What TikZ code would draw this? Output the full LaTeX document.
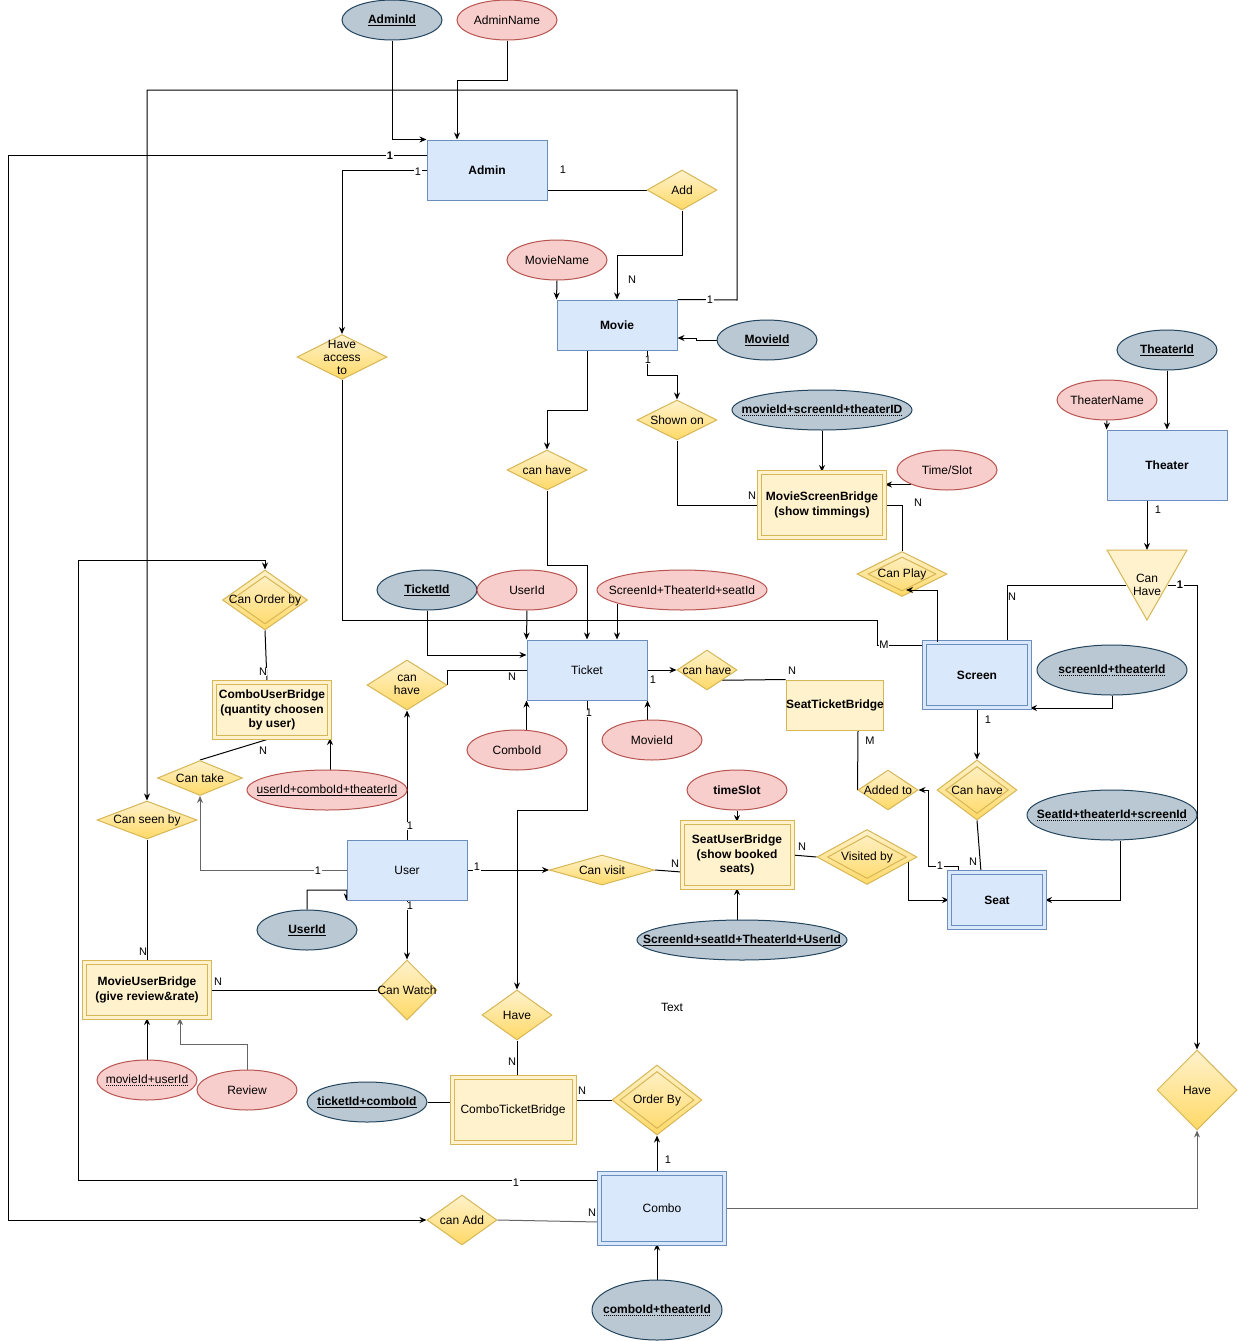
\documentclass[tikz,border=0pt,12pt]{standalone}
\usepackage{fontspec}
\setmainfont{Liberation Sans}
\usetikzlibrary{shapes.geometric,arrows.meta,calc,backgrounds}
\definecolor{entF}{HTML}{DAE8FC}
\definecolor{entB}{HTML}{6C8EBF}
\definecolor{brF}{HTML}{FFF2CC}
\definecolor{brB}{HTML}{D6B656}
\definecolor{relT}{HTML}{FFF2CC}
\definecolor{relBot}{HTML}{FFD966}
\definecolor{keyF}{HTML}{BAC8D3}
\definecolor{keyB}{HTML}{23445D}
\definecolor{attF}{HTML}{F8CECC}
\definecolor{attB}{HTML}{B85450}
\definecolor{lgray}{HTML}{666666}
\newcommand\dotul[1]{\setbox0\hbox{#1}\leavevmode\rlap{\raisebox{-2.5pt}{\hbox to \wd0{\xleaders\hbox to 2pt{\hss\vrule width 1pt height 0.8pt depth 0pt\hss}\hfill}}}\box0}
\newcommand\sul[1]{\setbox0\hbox{#1}\leavevmode\rlap{\raisebox{-2.2pt}{\vrule width \wd0 height 0.9pt depth 0pt}}\box0}
\tikzset{
 ent/.style={rectangle, draw=entB, fill=entF, line width=1pt, inner sep=2pt, align=center},
 entd/.style={ent, double=entF, double distance=3pt},
 br/.style={rectangle, draw=brB, fill=brF, line width=1pt, inner sep=2pt, align=center},
 brd/.style={br, double=brF, double distance=3pt},
 rel/.style={diamond, draw=relB, top color=relT, bottom color=relBot, line width=1pt, inner sep=0pt},
 relin/.style={diamond, draw=brB, line width=1pt, inner sep=0pt},
 keyat/.style={ellipse, draw=keyB, fill=keyF, line width=1pt, inner sep=0pt},
 att/.style={ellipse, draw=attB, fill=attF, line width=1pt, inner sep=0pt},
 lab/.style={label={[align=center]center:{#1}}},
 lbl/.style={font=\fontsize{11}{13}\selectfont, fill=white, inner sep=0.5pt},
 con/.style={line width=1pt},
 arr/.style={con, -{Stealth[length=7pt,width=6pt]}},
}
\colorlet{relB}{brB}
\begin{document}
\begin{tikzpicture}[x=1pt,y=-1pt]
\useasboundingbox (0,0) rectangle (1238,1341);
% ---------- entities
\node[ent, minimum width=120, minimum height=60, font=\bfseries] (admin) at (487,170) {Admin};
\node[ent, minimum width=120, minimum height=50, font=\bfseries] (movie) at (617,325) {Movie};
\node[ent, minimum width=120, minimum height=70, font=\bfseries] (theater) at (1167,465) {Theater};
\node[ent, minimum width=120, minimum height=60] (ticket) at (587,670) {Ticket};
\node[entd, minimum width=105, minimum height=65, font=\bfseries] (screen) at (977,675) {Screen};
\node[ent, minimum width=120, minimum height=60] (user) at (407,870) {User};
\node[entd, minimum width=95, minimum height=55, font=\bfseries] (seat) at (997,900) {Seat};
\node[entd, minimum width=125, minimum height=70] (combo) at (662,1208) {Combo};
% ---------- bridges
\node[brd, minimum width=125, minimum height=65, font=\bfseries] (msb) at (822,505) {MovieScreenBridge\\(show timmings)};
\node[brd, minimum width=115, minimum height=55, font=\bfseries] (cub) at (272,710) {ComboUserBridge\\(quantity choosen\\by user)};
\node[br, minimum width=96, minimum height=50, inner sep=0pt, font=\bfseries] (stb) at (835,705) {SeatTicketBridge};
\node[brd, minimum width=110, minimum height=65, font=\bfseries] (sub) at (737,855) {SeatUserBridge\\(show booked\\seats)};
\node[brd, minimum width=125, minimum height=55, font=\bfseries] (mub) at (147,990) {MovieUserBridge\\(give review\&rate)};
\node[brd, minimum width=122, minimum height=65] (ctb) at (513,1110) {ComboTicketBridge};
% ---------- relationships
\node[rel, minimum width=70, minimum height=40, lab={Add}] (add) at (682,190) {};
\node[rel, minimum width=90, minimum height=45, lab={Have\\[-1.5pt]access\\[-1.5pt]to}] (hat) at (342,357) {};
\node[rel, minimum width=80, minimum height=40, lab={Shown on}] (shown) at (677,420) {};
\node[rel, minimum width=80, minimum height=40, lab={can have}] (ch1) at (547,470) {};
\node[rel, minimum width=90, minimum height=45] (play) at (902,574) {};
\node[relin, minimum width=68, minimum height=34, lab={Can Play}] (playi) at (play) {};
\node[rel, minimum width=85, minimum height=60] (order) at (265,600) {};
\node[relin, minimum width=68, minimum height=48, lab={Can Order by}] (orderi) at (order) {};
\node[rel, minimum width=80, minimum height=50, lab={can\\[-1.5pt]have}] (ch2) at (407,685) {};
\node[rel, minimum width=60, minimum height=40, lab={can have}] (ch3) at (707,670) {};
\node[rel, minimum width=85, minimum height=35, lab={Can take}] (take) at (200,778) {};
\node[rel, minimum width=100, minimum height=38, lab={Can seen by}] (seen) at (147,820) {};
\node[rel, minimum width=105, minimum height=30, lab={Can visit}] (visit) at (602,870) {};
\node[rel, minimum width=60, minimum height=40, lab={Added to}] (added) at (888,790) {};
\node[rel, minimum width=80, minimum height=60] (ch4) at (977,790) {};
\node[relin, minimum width=63, minimum height=47, lab={Can have}] (ch4i) at (ch4) {};
\node[rel, minimum width=100, minimum height=55] (visby) at (867,857) {};
\node[relin, minimum width=79, minimum height=43, lab={Visited by}] (visbyi) at (visby) {};
\node[rel, minimum width=60, minimum height=60, lab={Can Watch}] (watch) at (407,990) {};
\node[rel, minimum width=70, minimum height=50, lab={Have}] (have1) at (517,1015) {};
\node[rel, minimum width=90, minimum height=70] (orderby) at (657,1100) {};
\node[relin, minimum width=74, minimum height=57, lab={Order By}] (orderbyi) at (orderby) {};
\node[rel, minimum width=70, minimum height=50, lab={can Add}] (canadd) at (462,1220) {};
\node[rel, minimum width=80, minimum height=80, lab={Have}] (have2) at (1197,1090) {};
% triangle "Can Have"
\draw[draw=brB, fill=brF, line width=1pt] (1107,550) -- (1187,550) -- (1147,620) -- cycle;
\node[align=center] (canhave) at (1147,585) {Can\\[-1.5pt]Have};
\coordinate (tritop) at (1147,550);
\coordinate (trileft) at (1126,585);
\coordinate (triright) at (1168,585);
% ---------- attributes
\node[keyat, minimum width=100, minimum height=40, lab={\sul{\textbf{AdminId}}}] (aid) at (392,20) {};
\node[att, minimum width=100, minimum height=40, lab={AdminName}] (aname) at (507,20) {};
\node[att, minimum width=100, minimum height=40, lab={MovieName}] (mname) at (557,260) {};
\node[keyat, minimum width=100, minimum height=40, lab={\sul{\textbf{MovieId}}}] (mid) at (767,340) {};
\node[keyat, minimum width=100, minimum height=40, lab={\sul{\textbf{TheaterId}}}] (tid) at (1167,350) {};
\node[att, minimum width=100, minimum height=40, lab={TheaterName}] (tname) at (1107,400) {};
\node[keyat, minimum width=180, minimum height=40, lab={\dotul{\textbf{movieId+screenId+theaterID}}}] (mst) at (822,410) {};
\node[att, minimum width=100, minimum height=40, lab={Time/Slot}] (tslot1) at (947,470) {};
\node[keyat, minimum width=100, minimum height=40, lab={\sul{\textbf{TicketId}}}] (tkid) at (427,590) {};
\node[att, minimum width=100, minimum height=40, lab={UserId}] (uid1) at (527,590) {};
\node[att, minimum width=170, minimum height=40, lab={ScreenId+TheaterId+seatId}] (stsid) at (682,590) {};
\node[keyat, minimum width=150, minimum height=50, lab={\dotul{\textbf{screenId+theaterId}}}] (sctid) at (1112,670) {};
\node[att, minimum width=100, minimum height=40, lab={ComboId}] (cid) at (517,750) {};
\node[att, minimum width=100, minimum height=40, lab={MovieId}] (mid2) at (652,740) {};
\node[att, minimum width=160, minimum height=40, lab={\sul{userId+comboId+theaterId}}] (uct) at (327,790) {};
\node[att, minimum width=100, minimum height=40, lab={\textbf{timeSlot}}] (tslot2) at (737,790) {};
\node[keyat, minimum width=170, minimum height=50, lab={\dotul{\textbf{SeatId+theaterId+screenId}}}] (sts) at (1112,815) {};
\node[keyat, minimum width=100, minimum height=40, lab={\sul{\textbf{UserId}}}] (uid2) at (307,930) {};
\node[keyat, minimum width=210, minimum height=40, lab={\sul{\textbf{ScreenId+seatId+TheaterId+UserId}}}] (sstu) at (742,940) {};
\node[att, minimum width=100, minimum height=40, lab={\dotul{movieId+userId}}] (muid) at (147,1080) {};
\node[att, minimum width=100, minimum height=40, lab={Review}] (review) at (247,1090) {};
\node[keyat, minimum width=120, minimum height=40, lab={\sul{\textbf{ticketId+comboId}}}] (tcid) at (367,1102) {};
\node[keyat, minimum width=130, minimum height=60, lab={\dotul{\textbf{comboId+theaterId}}}] (ctid) at (657,1310) {};
\node (freetext) at (672,1007) {Text};
% ---------- connectors
\begin{pgfonlayer}{background}
\draw[arr] (aid.south) |- (admin.north west);
\draw[arr] (aname.south) -- ++(0,40) -| ([xshift=-30]admin.north);
\draw[arr] (movie.north east) -- (737,300) |- (147,90) -- (seen.north);
\draw[arr] ([yshift=15]admin.west) -| (8,1220) -- (canadd.west);
\draw[arr] (admin.west) -| (hat.north);
\draw[con] ([yshift=-20]admin.east) -- (add.west);
\draw[arr] (add.south) -- ++(0,45) -| (movie.north);
\draw[arr] (mname.south) -- (movie.north west);
\draw[arr] (mid.west) -- ++(-20,0) |- ([yshift=-13]movie.east);
\draw[arr] ([xshift=30]movie.south) -- ++(0,25) -| (shown.north);
\draw[arr] ([xshift=-30]movie.south) -- ++(0,60) -| (ch1.north);
\draw[con] (shown.south) |- (msb.west);
\draw[arr] (mst.south) -- (msb.north);
\draw[arr] (tslot1.south west) -- (tslot1.south west -| msb.east);
\draw[con] (msb.east) -| (play.north);
\draw[con] (hat.south) |- (877,620) |- ([yshift=30]screen.west);
\draw[arr] (ch1.south) -- ++(0,75) -| (ticket.north);
\draw[arr] (tkid.south) |- ([yshift=15]ticket.west);
\draw[arr] (uid1.south) -- (ticket.north west);
\draw[arr] ([xshift=-65,yshift=7]stsid.south) -- ([xshift=30]ticket.north);
\draw[arr] (cid.north -| ticket.south west) -- (ticket.south west);
\draw[arr] (mid2.north -| ticket.south east) -- (ticket.south east);
\draw[arr] (ticket.east) -- (ch3.west);
\draw[con] ($(ch3.east)!0.5!(ch3.south)$) -- (stb.north west);
\draw[con] ([xshift=23]stb.south) -- (added.west);
\draw[arr] ([xshift=-39]seat.north) |- (928,866) |- (added.east);
\draw[arr] (screen.south) -- (ch4.north);
\draw[con] (ch4.south) -- ([xshift=-16]seat.north);
\draw[arr] (sctid.south) |- (screen.south east);
\draw[arr] ([xshift=8]sts.south) |- (seat.east);
\draw[arr] ([xshift=-9]visby.east) |- (seat.west);
\draw[con] (sub.east) -- (visby.west);
\draw[con] (visit.east) -- ([yshift=-17]sub.west);
\draw[arr] (user.east) -- (visit.west);
\draw[arr] (tslot2.south) -- (sub.north);
\draw[arr] (sstu.north -| sub.south) -- (sub.south);
\draw[arr] (tid.south) -- (theater.north);
\draw[arr] (tname.south) -- (theater.north west);
\draw[arr] ([xshift=-20]theater.south) -- (tritop);
\draw[con] (trileft) -| ([xshift=30]screen.north);
\draw[arr] (triright) -| (have2.north);
\draw[arr, draw=lgray] (combo.east) -| (have2.south);
\draw[arr] (orderby.south |- combo.north) -- (orderby.south);
\draw[arr] (ctid.north) -- (ctid.north |- combo.south);
\draw[con] ([yshift=10]ctb.east) -- (orderby.west);
\draw[con] (tcid.east) -- ([yshift=8]ctb.west);
\draw[con] (have1.south) -- (have1.south |- ctb.north);
\draw[arr] (ticket.south) -- ++(0,110) -| (have1.north);
\draw[arr] ([yshift=28]combo.west) -| (78,560) -| (order.north);
\draw[con, draw=lgray] (canadd.east) -- ([yshift=-14]combo.west);
\draw[con] (order.south) -- ([xshift=-5]cub.north);
\draw[con] (cub.south) -- (take.north);
\draw[arr, draw=lgray] (user.west) -| (take.south);
\draw[arr] (uct.north -| cub.south east) -- (cub.south east);
\draw[arr] (user.north) -- (ch2.south);
\draw[con] (ch2.east) |- (ticket.west);
\draw[arr] (uid2.north) |- (347,890) -- (user.south west);
\draw[arr] (user.south) -- (watch.north);
\draw[con] (watch.west) -- (mub.east);
\draw[con] (seen.south) -- (mub.north);
\draw[arr] (muid.north) -- (mub.south);
\draw[arr, draw=lgray] (review.north) -- ++(0,-25) -| ([xshift=33]mub.south);
\end{pgfonlayer}
% connector whose arrow ends inside the Can Play diamond
\draw[arr] ([xshift=-40]screen.north) |- ([xshift=4,yshift=-16]play.center);
% ---------- cardinality labels
\node[lbl] (l1) at (710,300) {1};
\node[lbl] (l2) at (390,156) {\textbf{1}};
\node[lbl] (l3) at (418,172) {1};
\node[lbl] (l4) at (563,170) {1};
\node[lbl] (l5) at (632,280) {N};
\node[lbl] (l6) at (648,360) {1};
\node[lbl] (l7) at (752,496) {N};
\node[lbl] (l8) at (918,503) {N};
\node[lbl] (l9) at (884,645) {M};
\node[lbl] (l10) at (653,680) {1};
\node[lbl] (l11) at (792,671) {N};
\node[lbl] (l12) at (870,741) {M};
\node[lbl] (l13) at (940,866) {1};
\node[lbl] (l14) at (988,720) {1};
\node[lbl] (l15) at (973,862) {N};
\node[lbl] (l16) at (802,847) {N};
\node[lbl] (l17) at (675,864) {N};
\node[lbl] (l18) at (477,867) {1};
\node[lbl] (l19) at (1158,510) {1};
\node[lbl] (l20) at (1012,597) {N};
\node[lbl] (l21) at (1180,585) {\textbf{1}};
\node[lbl] (l22) at (668,1160) {1};
\node[lbl] (l23) at (582,1091) {N};
\node[lbl] (l24) at (512,1062) {N};
\node[lbl] (l25) at (589,713) {1};
\node[lbl] (l26) at (516,1183) {1};
\node[lbl] (l27) at (592,1213) {N};
\node[lbl] (l28) at (263,672) {N};
\node[lbl] (l29) at (263,751) {N};
\node[lbl] (l30) at (318,871) {1};
\node[lbl] (l31) at (410,826) {1};
\node[lbl] (l32) at (512,677) {N};
\node[lbl] (l33) at (410,906) {1};
\node[lbl] (l34) at (218,982) {N};
\node[lbl] (l35) at (143,952) {N};
\end{tikzpicture}
\end{document}
